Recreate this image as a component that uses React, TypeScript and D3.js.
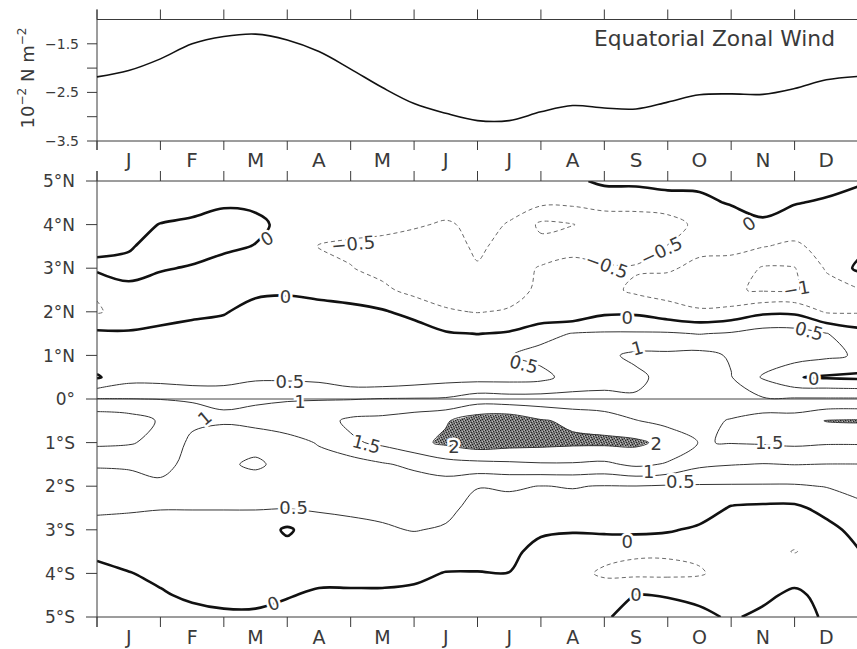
import React from "react";
import * as d3 from "d3";

// ---------- data ----------
const monthNames = ["J", "F", "M", "A", "M", "J", "J", "A", "S", "O", "N", "D"];
const monthEdges = [0, 1, 2, 3, 4, 5, 6, 7, 8, 9, 10, 11, 12];

// equatorial zonal wind stress (10^-2 N m^-2), every half month
const windTimes = [0, 0.5, 1, 1.5, 2, 2.5, 3, 3.5, 4, 4.5, 5, 5.5, 6, 6.5, 7, 7.5, 8, 8.5, 9, 9.5, 10, 10.5, 11, 11.5, 12];
const windStress = [-2.18, -2.05, -1.81, -1.5, -1.35, -1.3, -1.42, -1.66, -2.02, -2.4, -2.73, -2.93, -3.08, -3.08, -2.9, -2.77, -2.82, -2.84, -2.7, -2.55, -2.53, -2.54, -2.42, -2.24, -2.17];
const windTicks = [-1.5, -2, -2.5, -3, -3.5];
const windTickLabels = ["\u22121.5", "", "\u22122.5", "", "\u22123.5"];

// latitude-time field, columns every half month, rows every half degree
const gridTimes = [0, 0.5, 1, 1.5, 2, 2.5, 3, 3.5, 4, 4.5, 5, 5.5, 6, 6.5, 7, 7.5, 8, 8.5, 9, 9.5, 10, 10.5, 11, 11.5, 12];
const gridLats = [5, 4.5, 4, 3.5, 3, 2.5, 2, 1.5, 1, 0.5, 0, -0.5, -1, -1.5, -2, -2.5, -3, -3.5, -4, -4.5, -5];
const field = [
  [-0.2, -0.25, -0.3, -0.3, -0.3, -0.3, -0.3, -0.3, -0.3, -0.3, -0.3, -0.3, -0.3, -0.3, -0.3, -0.1, 0.1, 0.1, 0.15, 0.15, 0.2, 0.25, 0.2, 0.15, 0.05], // 5N
  [-0.3, -0.3, -0.3, -0.2, -0.05, -0.1, -0.25, -0.3, -0.3, -0.3, -0.35, -0.3, -0.35, -0.4, -0.4, -0.4, -0.35, -0.3, -0.2, -0.15, 0.05, 0.1, 0.02, -0.05, -0.15],
  [-0.3, -0.2, 0.02, 0.1, 0.15, 0.12, -0.15, -0.3, -0.3, -0.35, -0.45, -0.55, -0.4, -0.52, -1.1, -1.02, -0.75, -0.8, -0.75, -0.35, -0.35, -0.05, -0.2, -0.25, -0.3], // 4N
  [-0.1, -0.05, 0.2, 0.25, 0.1, -0.02, -0.2, -0.52, -0.6, -0.65, -0.7, -0.75, -0.4, -0.7, -0.85, -0.6, -0.7, -0.75, -0.48, -0.4, -0.4, -0.48, -0.6, -0.3, -0.15],
  [0.1, 0.15, 0.05, -0.05, -0.2, -0.3, -0.3, -0.3, -0.48, -0.65, -0.75, -0.8, -0.55, -0.75, -0.45, -0.4, -0.45, -0.45, -0.45, -0.6, -0.65, -1.05, -1.02, -0.45, 0.1], // 3N
  [-0.45, -0.1, -0.25, -0.3, -0.2, -0.15, -0.1, -0.2, -0.25, -0.4, -0.65, -0.7, -0.75, -0.7, -0.4, -0.45, -0.35, -0.6, -0.7, -0.75, -0.95, -1.05, -1.05, -0.7, -0.55],
  [-0.55, -0.3, -0.3, -0.15, -0.05, 0.25, 0.3, 0.25, 0.15, 0.05, -0.15, -0.45, -0.52, -0.45, -0.4, -0.4, -0.1, -0.1, -0.3, -0.45, -0.35, -0.1, -0.1, -0.55, -0.55], // 2N
  [0.1, 0.05, 0.18, 0.25, 0.3, 0.4, 0.4, 0.4, 0.35, 0.3, 0.25, 0.05, -0.01, 0.05, 0.35, 0.52, 0.55, 0.55, 0.55, 0.48, 0.55, 0.7, 0.7, 0.52, 0.2],
  [0.3, 0.25, 0.3, 0.35, 0.35, 0.4, 0.4, 0.4, 0.4, 0.4, 0.4, 0.35, 0.4, 0.48, 0.65, 0.75, 0.9, 1.1, 1.1, 1.15, 0.95, 0.8, 0.75, 0.6, 0.45], // 1N
  [-0.05, 0.3, 0.3, 0.2, 0.2, 0.4, 0.4, 0.35, 0.12, 0.1, 0.2, 0.3, 0.3, 0.3, 0.35, 0.7, 0.85, 0.9, 1.15, 1.25, 1.02, 0.45, 0.02, -0.05, -0.1],
  [1.02, 1.01, 0.99, 0.98, 0.98, 0.98, 0.98, 0.98, 0.98, 1.02, 1.03, 1.05, 1.25, 1.2, 1.2, 1.15, 1.1, 1.05, 1.1, 1.1, 1.05, 1.05, 1.05, 1.05, 1.05], // EQ
  [1.85, 1.75, 1.45, 1.1, 1.02, 1.05, 1.15, 1.3, 1.6, 1.65, 1.8, 1.95, 2.3, 2.35, 2.05, 1.9, 1.8, 1.52, 1.35, 1.3, 1.55, 1.75, 1.75, 2.02, 2.05],
  [1.6, 1.55, 1.35, 0.9, 0.9, 0.9, 0.9, 1.02, 1.42, 1.6, 1.85, 2.1, 2.3, 2.2, 2.15, 2.1, 2.1, 2.1, 1.85, 1.48, 1.52, 1.55, 1.6, 1.55, 1.55], // 1S
  [1.03, 1.05, 1.15, 0.85, 0.95, 1.05, 0.9, 0.9, 0.75, 0.95, 1.1, 1.3, 1.35, 1.4, 1.45, 1.45, 1.4, 1.6, 1.45, 1.1, 1.02, 0.98, 1.01, 0.99, 0.99],
  [0.85, 0.85, 0.9, 0.8, 0.8, 0.85, 0.8, 0.78, 0.7, 0.7, 0.75, 0.75, 0.52, 0.55, 0.49, 0.52, 0.48, 0.49, 0.45, 0.45, 0.45, 0.45, 0.45, 0.52, 0.7], // 2S
  [0.6, 0.56, 0.52, 0.52, 0.52, 0.52, 0.52, 0.55, 0.6, 0.6, 0.6, 0.62, 0.35, 0.35, 0.35, 0.35, 0.4, 0.4, 0.35, 0.3, -0.05, -0.1, -0.1, 0.15, 0.35],
  [0.3, 0.3, 0.3, 0.3, 0.3, 0.3, -0.08, 0.3, 0.35, 0.45, 0.52, 0.45, 0.3, 0.3, 0.1, 0.05, 0.1, 0.12, 0.06, -0.1, -0.3, -0.3, -0.3, -0.15, 0.15], // 3S
  [0.15, 0.2, 0.15, 0.2, 0.2, 0.2, 0.2, 0.2, 0.2, 0.2, 0.25, 0.25, 0.2, 0.15, -0.2, -0.3, -0.4, -0.45, -0.45, -0.4, -0.35, -0.35, -0.52, -0.3, -0.03],
  [-0.2, -0.02, 0.1, 0.15, 0.15, 0.15, 0.15, 0.1, 0.1, 0.1, 0.1, -0.02, -0.02, -0.01, -0.35, -0.4, -0.55, -0.6, -0.6, -0.55, -0.3, -0.3, -0.2, -0.2, -0.2], // 4S
  [-0.3, -0.3, -0.05, 0.08, 0.08, 0.08, 0.02, -0.05, -0.05, -0.05, -0.1, -0.15, -0.2, -0.2, -0.3, -0.3, -0.3, 0.02, -0.02, -0.1, -0.15, -0.1, 0.1, -0.15, -0.3],
  [-0.35, -0.35, -0.2, -0.15, -0.05, -0.05, -0.1, -0.15, -0.15, -0.15, -0.2, -0.2, -0.25, -0.25, -0.3, -0.3, -0.03, 0.1, 0.15, 0.1, -0.05, 0.1, 0.15, -0.05, -0.35], // 5S
];
const contourLevels = [-1, -0.5, 0, 0.5, 1, 1.5, 2];
const latTicks = [5, 4, 3, 2, 1, 0, -1, -2, -3, -4, -5];

// contour labels, placed in month / latitude units
const contourLabels = [
  { t: 2.68, lat: 3.68, text: "0", rot: -30 },
  { t: 2.97, lat: 2.34, text: "0", rot: 0 },
  { t: 4.04, lat: 3.56, text: "\u22120.5", rot: -5 },
  { t: 3.04, lat: 0.41, text: "0.5", rot: 0 },
  { t: 3.2, lat: -0.05, text: "1", rot: 0 },
  { t: 10.28, lat: 4.02, text: "0", rot: -35 },
  { t: 8.04, lat: 3.06, text: "\u22120.5", rot: 20 },
  { t: 8.9, lat: 3.4, text: "\u22120.5", rot: -25 },
  { t: 11.03, lat: 2.53, text: "\u22121", rot: -10 },
  { t: 8.36, lat: 1.86, text: "0", rot: 0 },
  { t: 11.23, lat: 1.56, text: "0.5", rot: 15 },
  { t: 8.52, lat: 1.17, text: "1", rot: -15 },
  { t: 6.73, lat: 0.8, text: "0.5", rot: 15 },
  { t: 11.3, lat: 0.48, text: "0", rot: 0 },
  { t: 1.7, lat: -0.43, text: "1", rot: -40 },
  { t: 4.25, lat: -1.03, text: "1.5", rot: 15 },
  { t: 3.1, lat: -2.5, text: "0.5", rot: 0 },
  { t: 2.78, lat: -4.69, text: "0", rot: -20 },
  { t: 5.63, lat: -1.08, text: "2", rot: 0 },
  { t: 8.82, lat: -1.03, text: "2", rot: 0 },
  { t: 10.6, lat: -0.99, text: "1.5", rot: 0 },
  { t: 8.7, lat: -1.66, text: "1", rot: 0 },
  { t: 9.2, lat: -1.89, text: "0.5", rot: 0 },
  { t: 8.36, lat: -3.26, text: "0", rot: 0 },
  { t: 8.5, lat: -4.48, text: "0", rot: 0 },
];

const FONT = "DejaVu Sans, Verdana, sans-serif";
const INK = "#3a3a3a";

type Pt = [number, number];

// cut the grid border out of a contour ring, keep only the iso-line parts
function splitRing(ring: Pt[], n: number, m: number) {
  let pts = ring.slice();
  const f = pts[0], l = pts[pts.length - 1];
  if (pts.length > 1 && f[0] === l[0] && f[1] === l[1]) pts = pts.slice(0, -1);
  const onEdge = (p: Pt) => p[0] <= 0 || p[0] >= n || p[1] <= 0 || p[1] >= m;
  const k = pts.findIndex(onEdge);
  if (k < 0) return [{ closed: true, pts }];
  const rot = pts.slice(k).concat(pts.slice(0, k));
  const out: { closed: boolean; pts: Pt[] }[] = [];
  let cur: Pt[] = [];
  for (const p of rot) {
    if (onEdge(p)) {
      if (cur.length > 1) out.push({ closed: false, pts: cur });
      cur = [];
    } else cur.push(p);
  }
  if (cur.length > 1) out.push({ closed: false, pts: cur });
  return out;
}

export default function App() {
  const L = 97, R = 858;
  const x = d3.scaleLinear().domain([0, 12]).range([L, R]);
  const yW = d3.scaleLinear().domain([-3.5, -1.0]).range([141, 19.5]);
  const yL = d3.scaleLinear().domain([-5, 5]).range([617, 181]);

  const n = gridTimes.length, m = gridLats.length;
  const gx = d3.scaleLinear().domain([0.5, n - 0.5]).range([gridTimes[0], gridTimes[n - 1]]);
  const gy = d3.scaleLinear().domain([0.5, m - 0.5]).range([gridLats[0], gridLats[m - 1]]);
  const px = (p: Pt) => x(gx(p[0]));
  const py = (p: Pt) => yL(gy(p[1]));

  const sets = d3.contours().size([n, m]).thresholds(contourLevels)(field.flat());

  const openLine = d3.line<Pt>().x(px).y(py).curve(d3.curveCatmullRom.alpha(0.5));
  const closedLine = d3.line<Pt>().x(px).y(py).curve(d3.curveCatmullRomClosed.alpha(0.5));

  const isolines: { d: string; level: number }[] = [];
  let shade = "";
  sets.forEach((s: any) => {
    s.coordinates.forEach((poly: Pt[][]) => {
      poly.forEach((ring) => {
        if (s.value === 2) {
          shade += "M" + ring.map((p) => `${px(p)},${py(p)}`).join("L") + "Z";
        }
        splitRing(ring, n, m).forEach((seg) => {
          const d = seg.closed ? closedLine(seg.pts) : openLine(seg.pts);
          if (d) isolines.push({ d, level: s.value });
        });
      });
    });
  });

  const styleFor = (v: number) =>
    v === 0
      ? { stroke: "#111", strokeWidth: 2.6, strokeDasharray: undefined }
      : v < 0
      ? { stroke: "#6a6a6a", strokeWidth: 1, strokeDasharray: "4 3" }
      : { stroke: "#333", strokeWidth: 1, strokeDasharray: undefined };

  const windLine = d3
    .line<number>()
    .x((_, i) => x(windTimes[i]))
    .y((v) => yW(v))
    .curve(d3.curveCatmullRom.alpha(0.5));

  const latLabel = (v: number) => (v === 0 ? "0\u00b0" : `${Math.abs(v)}\u00b0${v > 0 ? "N" : "S"}`);
  const midMonths = monthNames.map((_, i) => (monthEdges[i] + monthEdges[i + 1]) / 2);

  return (
    <svg width={857} height={649} style={{ position: "absolute", left: 0, top: 0, background: "#fff" }} fontFamily={FONT}>
      <defs>
        <clipPath id="plotClip">
          <rect x={L} y={yL(5)} width={R - L} height={yL(-5) - yL(5)} />
        </clipPath>
        <pattern id="stipple" width={5} height={5} patternUnits="userSpaceOnUse">
          <rect width={5} height={5} fill="#7c7c7c" />
          <rect x={0} y={0} width={1} height={1} fill="#1e1e1e" />
          <rect x={3} y={1} width={1} height={1} fill="#2a2a2a" />
          <rect x={1} y={2} width={1} height={1} fill="#222" />
          <rect x={4} y={3} width={1} height={1} fill="#2e2e2e" />
          <rect x={2} y={4} width={1} height={1} fill="#1e1e1e" />
          <rect x={2} y={1} width={1} height={1} fill="#bdbdbd" />
          <rect x={0} y={3} width={1} height={1} fill="#c8c8c8" />
          <rect x={4} y={0} width={1} height={1} fill="#b5b5b5" />
        </pattern>
      </defs>

      {/* ---------- top panel ---------- */}
      <g stroke={INK} strokeWidth={1}>
        <line x1={L} x2={R} y1={yW(-1)} y2={yW(-1)} />
        <line x1={L} x2={R} y1={yW(-3.5)} y2={yW(-3.5)} />
        <line x1={L} x2={L} y1={yW(-1) - 10} y2={yW(-3.5) + 9} />
        {monthEdges.map((t) => (
          <g key={"tt" + t}>
            <line x1={x(t)} x2={x(t)} y1={yW(-1) - 10} y2={yW(-1)} />
            <line x1={x(t)} x2={x(t)} y1={yW(-3.5)} y2={yW(-3.5) + 9} />
          </g>
        ))}
        {windTicks.map((v) => (
          <line key={"wt" + v} x1={L - 10} x2={L} y1={yW(v)} y2={yW(v)} />
        ))}
      </g>
      {windTicks.map((v, i) => (
        <text key={"wl" + v} x={79} y={yW(v)} dy="0.36em" textAnchor="end" fontSize={14} fill={INK}>
          {windTickLabels[i]}
        </text>
      ))}
      <text transform="translate(34,78) rotate(-90)" textAnchor="middle" fontSize={18} fill={INK}>
        10
        <tspan dy={-8} fontSize={12}>{"\u22122"}</tspan>
        <tspan dy={8}>{" N m"}</tspan>
        <tspan dy={-8} fontSize={12}>{"\u22122"}</tspan>
      </text>
      <path d={windLine(windStress) || ""} fill="none" stroke="#111" strokeWidth={1.6} />
      <text x={594} y={46} fontSize={21} fill={INK} textLength={241} lengthAdjust="spacingAndGlyphs">
        Equatorial Zonal Wind
      </text>
      {monthNames.map((mn, i) => (
        <text key={"mt" + i} x={x(midMonths[i])} y={167} textAnchor="middle" fontSize={20} fill={INK}>
          {mn}
        </text>
      ))}

      {/* ---------- bottom panel ---------- */}
      <g clipPath="url(#plotClip)">
        {shade && <path d={shade} fill="url(#stipple)" fillRule="evenodd" stroke="none" />}
        <line x1={L} x2={R} y1={yL(0)} y2={yL(0)} stroke="#444" strokeWidth={1} />
        {isolines.map((c, i) => {
          const st = styleFor(c.level);
          return (
            <path
              key={"c" + i}
              d={c.d}
              fill="none"
              stroke={st.stroke}
              strokeWidth={st.strokeWidth}
              strokeDasharray={st.strokeDasharray}
              strokeLinejoin="round"
            />
          );
        })}
        {contourLabels.map((lb, i) => (
          <text
            key={"lb" + i}
            transform={`translate(${x(lb.t)},${yL(lb.lat)}) rotate(${lb.rot})`}
            textAnchor="middle"
            dy="0.36em"
            fontSize={18}
            fill={INK}
            stroke="#fff"
            strokeWidth={5}
            paintOrder="stroke"
          >
            {lb.text}
          </text>
        ))}
      </g>
      <g stroke={INK} strokeWidth={1}>
        <line x1={L} x2={R} y1={yL(5)} y2={yL(5)} />
        <line x1={L} x2={R} y1={yL(-5)} y2={yL(-5)} />
        <line x1={L} x2={L} y1={yL(5) - 10} y2={yL(-5) + 10} />
        {monthEdges.map((t) => (
          <g key={"bt" + t}>
            <line x1={x(t)} x2={x(t)} y1={yL(5) - 10} y2={yL(5)} />
            <line x1={x(t)} x2={x(t)} y1={yL(-5)} y2={yL(-5) + 10} />
          </g>
        ))}
        {latTicks.map((v) => (
          <line key={"lt" + v} x1={L - 11} x2={L} y1={yL(v)} y2={yL(v)} />
        ))}
      </g>
      {latTicks.map((v) => (
        <text key={"ll" + v} x={75} y={yL(v)} dy="0.36em" textAnchor="end" fontSize={17} fill={INK}>
          {latLabel(v)}
        </text>
      ))}
      {monthNames.map((mn, i) => (
        <text key={"mb" + i} x={x(midMonths[i])} y={644} textAnchor="middle" fontSize={19} fill={INK}>
          {mn}
        </text>
      ))}
    </svg>
  );
}
